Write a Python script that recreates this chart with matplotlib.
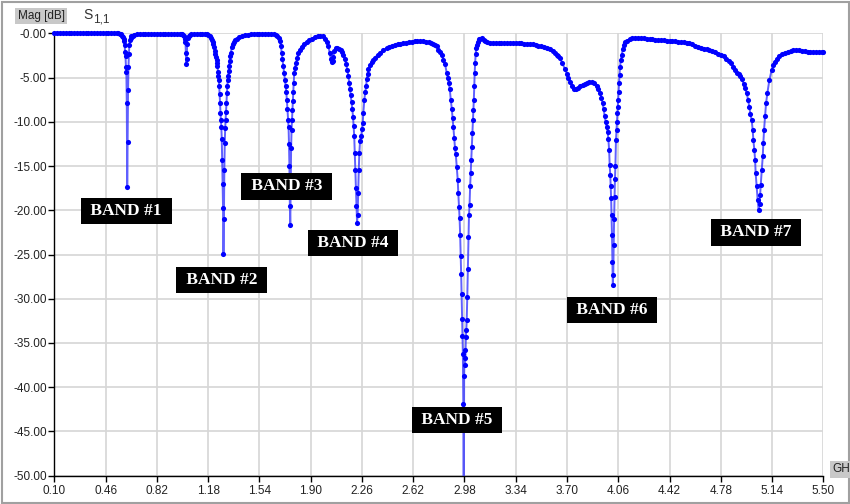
import matplotlib
matplotlib.use("Agg")
import matplotlib.pyplot as plt
from matplotlib.patches import Rectangle

# S11 magnitude trace (frequency in GHz, magnitude in dB)
freq_ghz = [
    0.10, 0.12, 0.14, 0.16, 0.18, 0.20, 0.22, 0.24, 0.26, 0.28,
    0.30, 0.32, 0.34, 0.36, 0.38, 0.40, 0.42, 0.44, 0.46, 0.48,
    0.50, 0.52, 0.54,
    0.550, 0.560, 0.568, 0.575, 0.581, 0.586, 0.590, 0.594, 0.597, 0.600,
    0.603, 0.606, 0.609, 0.612, 0.615, 0.618, 0.621, 0.624, 0.627, 0.631,
    0.636, 0.642, 0.650, 0.660,
    0.68, 0.70, 0.72, 0.74, 0.76, 0.78, 0.80, 0.82, 0.84, 0.86,
    0.88, 0.90, 0.92, 0.94, 0.96, 0.98,
    0.990, 0.998, 1.006, 1.012, 1.017, 1.021, 1.024, 1.027, 1.030, 1.033,
    1.037, 1.043, 1.050, 1.060,
    1.08, 1.10, 1.12, 1.14, 1.16,
    1.170, 1.181, 1.190, 1.200, 1.207, 1.212, 1.217, 1.222, 1.227, 1.231,
    1.235, 1.239, 1.243, 1.246, 1.249, 1.252, 1.255, 1.258, 1.261, 1.264,
    1.267, 1.270, 1.273, 1.276, 1.279, 1.282, 1.285, 1.288, 1.291, 1.294,
    1.297, 1.300, 1.303, 1.306, 1.309, 1.312, 1.315, 1.318, 1.321, 1.324,
    1.327, 1.331, 1.335, 1.340, 1.346, 1.353, 1.362, 1.372, 1.385, 1.400,
    1.420, 1.440, 1.460, 1.480, 1.500,
    1.52, 1.54, 1.56, 1.58, 1.60,
    1.620, 1.640, 1.655, 1.667, 1.678, 1.685, 1.691, 1.697, 1.702, 1.708,
    1.714, 1.720, 1.725, 1.729, 1.733, 1.737, 1.741, 1.745, 1.748, 1.751,
    1.754, 1.757, 1.760, 1.763, 1.766, 1.769, 1.772, 1.775, 1.778, 1.781,
    1.785, 1.790, 1.797, 1.805, 1.813, 1.824, 1.837, 1.852, 1.872, 1.890,
    1.907, 1.930, 1.950, 1.966, 1.985, 2.001, 2.012, 2.024, 2.034, 2.042,
    2.048, 2.054, 2.059, 2.066, 2.076, 2.088, 2.100, 2.110, 2.120, 2.130,
    2.141, 2.150, 2.158, 2.165, 2.171, 2.177, 2.182, 2.188, 2.193, 2.198,
    2.202, 2.206, 2.210, 2.214, 2.218, 2.222, 2.226, 2.230, 2.234, 2.238,
    2.242, 2.247, 2.255, 2.262, 2.266, 2.270, 2.277, 2.284, 2.290, 2.294,
    2.300, 2.305, 2.317, 2.329, 2.341, 2.352, 2.370, 2.387, 2.410, 2.434,
    2.45, 2.47, 2.49, 2.51, 2.53, 2.55, 2.57, 2.59, 2.61, 2.63,
    2.65, 2.67, 2.69, 2.71, 2.73, 2.745, 2.762, 2.774, 2.786, 2.797,
    2.810, 2.821, 2.832, 2.844, 2.856, 2.863, 2.870, 2.877, 2.884, 2.891,
    2.897, 2.902, 2.908, 2.914, 2.919, 2.926, 2.933, 2.937, 2.942, 2.946,
    2.950, 2.954, 2.957, 2.960, 2.963, 2.966, 2.969, 2.972, 2.975, 2.978,
    2.981, 2.984, 2.987, 2.990, 2.993, 2.996, 3.000, 3.004, 3.008, 3.012,
    3.016, 3.020, 3.024, 3.028, 3.032, 3.036, 3.040, 3.043, 3.046, 3.049,
    3.052, 3.055, 3.059, 3.063, 3.068, 3.074, 3.080, 3.090, 3.102, 3.115,
    3.125, 3.140, 3.160, 3.180, 3.200, 3.22, 3.24, 3.26, 3.28, 3.30,
    3.32, 3.34, 3.36, 3.38, 3.40, 3.42, 3.44, 3.46, 3.48, 3.50,
    3.52, 3.54, 3.56, 3.58, 3.60, 3.615, 3.630, 3.640, 3.651, 3.668,
    3.686, 3.700, 3.709, 3.721, 3.735, 3.750, 3.765, 3.780, 3.795, 3.810,
    3.825, 3.839, 3.855, 3.874, 3.890, 3.909, 3.920, 3.932, 3.942, 3.950,
    3.958, 3.965, 3.972, 3.979, 3.986, 3.991, 3.996, 4.000, 4.004, 4.007,
    4.010, 4.013, 4.016, 4.019, 4.022, 4.025, 4.028, 4.031, 4.034, 4.037,
    4.040, 4.044, 4.048, 4.051, 4.054, 4.057, 4.060, 4.063, 4.066, 4.069,
    4.073, 4.078, 4.085, 4.092, 4.100, 4.110, 4.120, 4.140, 4.160, 4.18,
    4.20, 4.22, 4.24, 4.26, 4.28, 4.30, 4.32, 4.34, 4.36, 4.38,
    4.40, 4.42, 4.44, 4.46, 4.48, 4.50, 4.52, 4.54, 4.56, 4.58,
    4.60, 4.62, 4.64, 4.66, 4.68, 4.70, 4.72, 4.74, 4.76, 4.78,
    4.80, 4.82, 4.835, 4.85, 4.868, 4.88, 4.892, 4.905, 4.918, 4.93,
    4.94, 4.95, 4.962, 4.972, 4.980, 4.988, 4.997, 5.004, 5.009, 5.016,
    5.021, 5.025, 5.032, 5.039, 5.046, 5.052, 5.056, 5.061, 5.068, 5.075,
    5.079, 5.084, 5.091, 5.098, 5.107, 5.121, 5.138, 5.150, 5.161, 5.175,
    5.19, 5.21, 5.23, 5.25, 5.27, 5.29, 5.31, 5.33, 5.35, 5.37,
    5.39, 5.41, 5.43, 5.45, 5.47, 5.49, 5.50,
]

mag_db = [
    0.05, 0.05, 0.05, 0.05, 0.05, 0.05, 0.05, 0.05, 0.05, 0.05,
    0.05, 0.05, 0.05, 0.05, 0.05, 0.05, 0.05, 0.05, 0.05, 0.05,
    0.04, 0.03, 0.02,
    0.00, -0.03, -0.10, -0.25, -0.40, -0.65, -0.90, -1.30, -2.10, -2.55,
    -3.80, -4.35, -7.90, -17.40, -12.30, -6.40, -3.80, -2.30, -1.35, -0.80,
    -0.50, -0.35, -0.25, -0.18,
    -0.12, -0.08, -0.06, -0.05, -0.05, -0.04, -0.04, -0.04, -0.04, -0.04,
    -0.04, -0.04, -0.04, -0.04, -0.05, -0.06,
    -0.08, -0.12, -0.20, -0.35, -0.60, -0.95, -2.20, -3.50, -2.85, -1.20,
    -0.55, -0.30, -0.18, -0.10,
    -0.07, -0.06, -0.05, -0.05, -0.06,
    -0.08, -0.15, -0.30, -0.50, -0.75, -0.98, -1.25, -1.60, -2.00, -2.30,
    -2.70, -3.00, -3.40, -3.75, -4.35, -4.80, -5.30, -6.00, -6.90, -7.90,
    -9.00, -9.80, -10.60, -12.00, -14.30, -17.00, -19.80, -24.90, -21.00, -15.50,
    -12.40, -10.70, -9.80, -8.90, -7.90, -6.80, -6.00, -5.30, -4.80, -4.30,
    -3.70, -3.10, -2.60, -2.20, -1.55, -1.20, -0.95, -0.75, -0.60, -0.45,
    -0.30, -0.22, -0.15, -0.10, -0.07,
    -0.05, -0.04, -0.03, -0.03, -0.04,
    -0.05, -0.08, -0.15, -0.30, -0.55, -0.85, -1.40, -2.20, -2.90, -3.75,
    -4.50, -5.30, -6.00, -6.60, -7.50, -8.60, -9.80, -10.60, -12.50, -15.00,
    -19.50, -21.70, -17.00, -13.00, -10.90, -9.80, -8.70, -7.60, -6.60, -5.65,
    -4.50, -3.90, -3.40, -2.80, -2.25, -1.85, -1.50, -1.20, -0.95, -0.75,
    -0.60, -0.45, -0.35, -0.30, -0.35, -0.60, -0.95, -1.45, -2.20, -2.90,
    -3.20, -3.10, -2.70, -2.00, -1.70, -1.62, -1.75, -1.90, -2.10, -2.50,
    -2.95, -3.50, -4.20, -4.80, -5.60, -6.30, -7.00, -7.80, -8.60, -9.50,
    -10.50, -11.60, -13.50, -15.50, -17.50, -19.50, -21.40, -20.50, -18.00, -15.50,
    -13.50, -12.20, -11.60, -10.80, -10.10, -9.00, -7.50, -6.60, -6.00, -5.20,
    -4.60, -4.05, -3.60, -3.30, -3.00, -2.75, -2.45, -2.20, -1.90, -1.65,
    -1.55, -1.45, -1.35, -1.25, -1.18, -1.10, -1.05, -1.00, -0.95, -0.92,
    -0.90, -0.88, -0.90, -0.94, -1.00, -1.08, -1.20, -1.32, -1.45, -1.85,
    -2.10, -2.40, -3.00, -3.50, -4.50, -5.00, -5.60, -6.30, -7.50, -8.50,
    -9.60, -10.55, -11.80, -13.00, -13.60, -15.10, -16.60, -18.10, -19.60, -20.90,
    -22.80, -25.20, -27.20, -29.50, -32.30, -34.20, -36.20, -41.90, -55.00, -38.70,
    -35.80, -37.50, -36.70, -34.30, -33.50, -32.40, -29.80, -26.60, -23.00, -20.50,
    -19.40, -17.30, -15.80, -14.30, -12.80, -11.30, -9.80, -8.70, -7.50, -6.00,
    -4.50, -3.40, -2.30, -1.70, -1.30, -0.95, -0.70, -0.60, -0.58, -0.72,
    -0.85, -0.95, -1.05, -1.10, -1.12, -1.13, -1.13, -1.12, -1.10, -1.08,
    -1.08, -1.09, -1.12, -1.15, -1.17, -1.19, -1.22, -1.25, -1.30, -1.38,
    -1.46, -1.55, -1.66, -1.80, -2.00, -2.20, -2.40, -2.58, -2.80, -3.40,
    -4.05, -4.60, -5.00, -5.45, -5.95, -6.30, -6.35, -6.20, -6.00, -5.80,
    -5.70, -5.60, -5.50, -5.50, -5.65, -5.95, -6.30, -6.80, -7.30, -7.90,
    -8.60, -9.40, -10.00, -10.55, -11.20, -12.00, -13.20, -14.90, -16.00, -17.30,
    -18.60, -20.50, -22.80, -25.80, -28.40, -27.30, -23.90, -21.00, -18.50, -16.50,
    -15.00, -12.10, -10.90, -10.00, -9.00, -8.30, -7.50, -6.60, -5.65, -4.70,
    -3.80, -3.00, -2.40, -1.80, -1.30, -1.00, -0.85, -0.65, -0.55, -0.51,
    -0.50, -0.53, -0.57, -0.62, -0.67, -0.70, -0.73, -0.75, -0.77, -0.80,
    -0.83, -0.86, -0.88, -0.91, -0.95, -0.98, -1.02, -1.08, -1.15, -1.25,
    -1.38, -1.50, -1.62, -1.72, -1.80, -1.88, -1.98, -2.12, -2.30, -2.47,
    -2.62, -2.85, -3.10, -3.35, -3.80, -4.15, -4.50, -4.65, -4.85, -5.20,
    -5.70, -6.20, -6.80, -7.50, -8.30, -9.10, -9.80, -10.90, -12.10, -13.20,
    -14.30, -15.80, -17.30, -18.80, -20.00, -19.30, -18.30, -17.10, -15.40, -13.90,
    -12.40, -10.90, -9.40, -7.90, -6.80, -5.30, -4.10, -3.60, -3.20, -2.85,
    -2.55, -2.35, -2.20, -2.08, -2.00, -1.93, -1.90, -1.92, -1.98, -2.05,
    -2.10, -2.13, -2.15, -2.15, -2.15, -2.15, -2.15,
]

# Band annotations: label text and the (GHz, dB) point it is centred on
band_names = ["BAND #1", "BAND #2", "BAND #3", "BAND #4", "BAND #5", "BAND #6", "BAND #7"]
band_freq = [0.606, 1.274, 1.731, 2.196, 2.927, 4.017, 5.030]
band_db = [-20.1, -27.9, -17.3, -23.7, -43.7, -31.3, -22.5]

x_ticks = [0.10, 0.46, 0.82, 1.18, 1.54, 1.90, 2.26, 2.62, 2.98, 3.34,
           3.70, 4.06, 4.42, 4.78, 5.14, 5.50]
x_tick_labels = ["0.10", "0.46", "0.82", "1.18", "1.54", "1.90", "2.26", "2.62",
                 "2.98", "3.34", "3.70", "4.06", "4.42", "4.78", "5.14", "5.50"]
y_ticks = [0, -5, -10, -15, -20, -25, -30, -35, -40, -45, -50]
y_tick_labels = ["-0.00", "-5.00", "-10.00", "-15.00", "-20.00", "-25.00",
                 "-30.00", "-35.00", "-40.00", "-45.00", "-50.00"]

W, H = 850, 504
fig = plt.figure(figsize=(W / 100, H / 100), dpi=100)
fig.patch.set_facecolor("white")

x0, x1, y0, y1 = 54.3, 823.3, 33.3, 475.7
ax = fig.add_axes([x0 / W, 1 - y1 / H, (x1 - x0) / W, (y1 - y0) / H])
ax.set_facecolor("white")
ax.set_xlim(0.10, 5.50)
ax.set_ylim(-50, 0)

tick_font = dict(family="Liberation Sans", size=8.5)
ax.set_xticks(x_ticks)
ax.set_xticklabels(x_tick_labels, **tick_font, color="#222222")
ax.set_yticks(y_ticks)
ax.set_yticklabels(y_tick_labels, **tick_font, color="#222222")
ax.tick_params(axis="x", direction="out", length=4, width=1, color="black", pad=3)
ax.tick_params(axis="y", direction="out", length=4, width=1, color="black", pad=1.5)

ax.grid(True, color="#d6d6d6", linewidth=1.2)
ax.set_axisbelow(True)
for side in ("top", "right"):
    ax.spines[side].set_visible(False)
for side in ("left", "bottom"):
    ax.spines[side].set_color("black")
    ax.spines[side].set_linewidth(1.0)
    ax.spines[side].set_zorder(3)

# trace: thin connecting line plus point markers, allowed to spill slightly above 0 dB
clip_rect = Rectangle((-0.01, 0.0), 1.02, 1.06, transform=ax.transAxes)
line, = ax.plot(freq_ghz, mag_db, color="#2b2bff", linewidth=1.4, alpha=0.75, zorder=4)
dots, = ax.plot(freq_ghz, mag_db, linestyle="none", marker="o", markersize=3.7,
                markerfacecolor="#0000ff", markeredgewidth=0, zorder=5)
for artist in (line, dots):
    artist.set_clip_path(clip_rect)

for name, f, m in zip(band_names, band_freq, band_db):
    ax.text(f, m, " " + name + " ", ha="center", va="center", color="white",
            family="Liberation Serif", weight="bold", fontsize=12.5, zorder=10,
            bbox=dict(boxstyle="square,pad=0.3", facecolor="black", edgecolor="none"))

# header labels
fig.text(41 / W, 1 - 16 / H, "Mag [dB]", ha="center", va="center",
         family="Liberation Sans", fontsize=8.5, color="#222222",
         bbox=dict(boxstyle="square,pad=0.18", facecolor="#c8c8c8", edgecolor="none"))
fig.text(83 / W, 1 - 15 / H, "S", ha="left", va="center",
         family="Liberation Sans", fontsize=10, color="#333333")
fig.text(93 / W, 1 - 19 / H, "1,1", ha="left", va="center",
         family="Liberation Sans", fontsize=8.5, color="#333333")
fig.text(832 / W, 1 - 469.5 / H, "GH", ha="left", va="center",
         family="Liberation Sans", fontsize=8.5, color="#222222",
         bbox=dict(boxstyle="square,pad=0.2", facecolor="#c8c8c8", edgecolor="none"))

# outer frame
fig.patches.append(Rectangle((1.5 / W, 1.5 / H), (W - 3) / W, (H - 3) / H,
                             transform=fig.transFigure, fill=False,
                             edgecolor="#a0a0a0", linewidth=1.5))

fig.savefig("out.png", dpi=100)
